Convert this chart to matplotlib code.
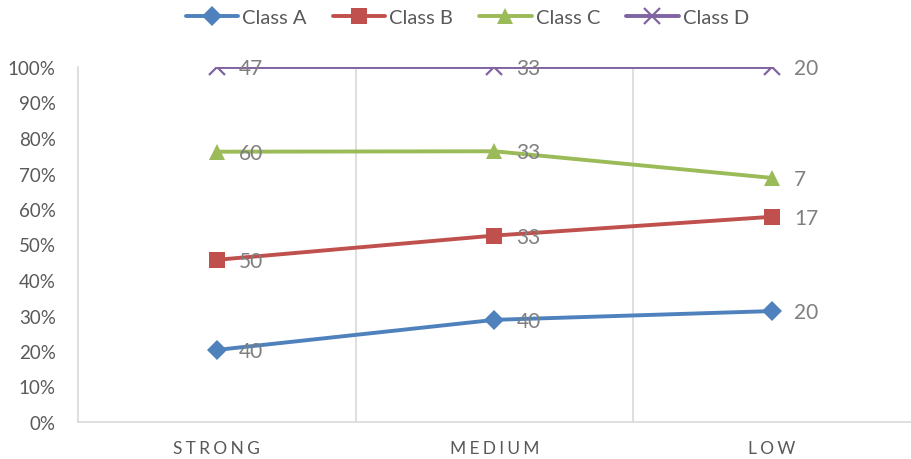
import matplotlib
matplotlib.use("Agg")
import matplotlib.pyplot as plt
import numpy as np

categories = ["STRONG", "MEDIUM", "LOW"]
class_a = [40, 40, 20]
class_b = [50, 33, 17]
class_c = [60, 33, 7]
class_d = [47, 33, 20]
series_names = ["Class A", "Class B", "Class C", "Class D"]
y_ticks = [0, 10, 20, 30, 40, 50, 60, 70, 80, 90, 100]

colors = ["#4F81BD", "#C0504D", "#9BBB59", "#8064A2"]
markers = ["D", "s", "^", "x"]
msizes = [10, 11, 12, 11]

plt.rcParams["font.family"] = ["Lato", "DejaVu Sans"]

fig = plt.figure(figsize=(9.11, 4.60), dpi=100)
ax = fig.add_axes([78 / 911, 37 / 460, 833 / 911, 355 / 460])

# 100% stacked lines: cumulative share of each class per category
values = np.array([class_a, class_b, class_c, class_d], dtype=float)
totals = values.sum(axis=0)
cum = np.cumsum(values, axis=0) / totals * 100

x = np.arange(len(categories))
for i, name in enumerate(series_names):
    ax.plot(x, cum[i], color=colors[i], lw=2.8, marker=markers[i],
            markersize=msizes[i], markeredgewidth=1.6 if markers[i] == "x" else 0,
            label=name, solid_capstyle="round", zorder=3)
    for xi, yi, v in zip(x, cum[i], values[i]):
        ax.annotate(f"{int(v)}", (xi, yi), xytext=(22, -1),
                    textcoords="offset pixels", ha="left", va="center",
                    fontsize=15, color="#7F7F7F", zorder=4)

ax.set_xlim(-0.5, 2.5)
ax.set_ylim(0, 100)
ax.set_yticks(y_ticks)
ax.set_yticklabels([f"{t}%" for t in y_ticks], fontsize=13.5, color="#595959")
ax.set_xticks(x)
ax.set_xticklabels(["\u2009\u200a".join(c) for c in categories], fontsize=12.5,
                   color="#595959")
ax.tick_params(axis="both", length=0)
ax.tick_params(axis="y", pad=16)
ax.tick_params(axis="x", pad=13)

# vertical gridlines between categories
for b in [0.5, 1.5]:
    ax.axvline(b, color="#D9D9D9", lw=1.2, zorder=1)

for side in ["top", "right"]:
    ax.spines[side].set_visible(False)
for side in ["left", "bottom"]:
    ax.spines[side].set_color("#D9D9D9")
    ax.spines[side].set_linewidth(1.2)

leg = fig.legend(loc="upper center", bbox_to_anchor=(0.513, 1.017), ncol=4,
                 frameon=False, fontsize=14.5, handlelength=2.6, handletextpad=0.2,
                 columnspacing=1.3)
for t in leg.get_texts():
    t.set_color("#595959")

fig.savefig("out.png", dpi=100)
